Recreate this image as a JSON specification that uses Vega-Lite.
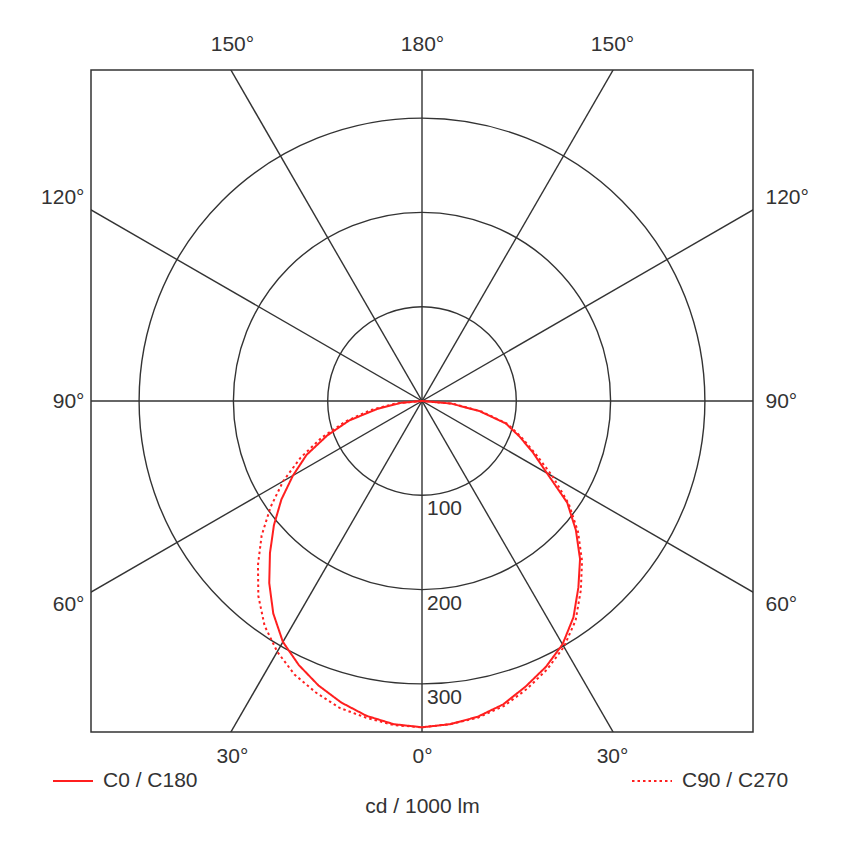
{
  "$schema": "https://vega.github.io/schema/vega-lite/v6.json",
  "width": 662,
  "height": 662,
  "autosize": "none",
  "padding": {"left": 91, "top": 70, "right": 97, "bottom": 116},
  "background": "white",
  "config": {
    "font": "Liberation Sans",
    "view": {"stroke": "#333333", "strokeWidth": 1.5},
    "axis": {"grid": false, "ticks": false, "tickSize": 0, "domain": false, "labelFont": "Liberation Sans", "labelFontSize": 21, "labelColor": "#333333", "titleFont": "Liberation Sans", "titleFontSize": 21, "titleFontWeight": "normal", "titleColor": "#333333"}
  },
  "resolve": {"axis": {"x": "independent", "y": "independent"}},
  "layer": [
    {
      "data": {"values": [{"r": 100}, {"r": 200}, {"r": 300}]},
      "transform": [
        {"calculate": "0", "as": "cx"},
        {"calculate": "0", "as": "cy"}
      ],
      "mark": {"type": "point", "shape": "circle", "filled": false, "stroke": "#333333", "strokeWidth": 1.4, "opacity": 1},
      "encoding": {
        "x": {"field": "cx", "type": "quantitative", "scale": {"domain": [-351, 351], "nice": false, "zero": false}, "axis": null},
        "y": {"field": "cy", "type": "quantitative", "scale": {"domain": [-351, 351], "nice": false, "zero": false}, "axis": null},
        "size": {"field": "r", "type": "quantitative", "scale": {"type": "pow", "exponent": 2, "domain": [0, 351], "range": [0, 438244], "zero": true}, "legend": null}
      }
    },
    {
      "data": {"values": [{"a": 0}, {"a": 30}, {"a": 60}, {"a": 90}, {"a": 120}, {"a": 150}]},
      "transform": [
        {"calculate": "600*sin(datum.a*PI/180)", "as": "x1"},
        {"calculate": "-600*cos(datum.a*PI/180)", "as": "y1"},
        {"calculate": "-datum.x1", "as": "xe"},
        {"calculate": "-datum.y1", "as": "ye"}
      ],
      "mark": {"type": "rule", "clip": true, "color": "#333333", "strokeWidth": 1.4},
      "encoding": {
        "x": {"field": "x1", "type": "quantitative", "scale": {"domain": [-351, 351], "nice": false, "zero": false},
          "axis": {"orient": "bottom", "values": [-201.5, 0, 201.5], "labelExpr": "datum.value == 0 ? '0°' : '30°'", "labelBaseline": "middle", "labelPadding": 24, "title": "cd / 1000 lm", "titlePadding": 29}},
        "x2": {"field": "xe"},
        "y": {"field": "y1", "type": "quantitative", "scale": {"domain": [-351, 351], "nice": false, "zero": false},
          "axis": {"orient": "left", "values": [-216, 0, 216], "labelExpr": "datum.value > 100 ? '120°' : datum.value < -100 ? '60°' : '90°'", "labelBaseline": "middle", "labelPadding": 7, "title": null}},
        "y2": {"field": "ye"}
      }
    },
    {
      "data": {"values": [
        {"series": "C0 / C180", "angle": -90, "cd": 0},
        {"series": "C0 / C180", "angle": -85, "cd": 22},
        {"series": "C0 / C180", "angle": -80, "cd": 48},
        {"series": "C0 / C180", "angle": -75, "cd": 80},
        {"series": "C0 / C180", "angle": -70, "cd": 107},
        {"series": "C0 / C180", "angle": -65, "cd": 135},
        {"series": "C0 / C180", "angle": -60, "cd": 158},
        {"series": "C0 / C180", "angle": -55, "cd": 182},
        {"series": "C0 / C180", "angle": -50, "cd": 205},
        {"series": "C0 / C180", "angle": -45, "cd": 228},
        {"series": "C0 / C180", "angle": -40, "cd": 252},
        {"series": "C0 / C180", "angle": -35, "cd": 275},
        {"series": "C0 / C180", "angle": -30, "cd": 295},
        {"series": "C0 / C180", "angle": -25, "cd": 309},
        {"series": "C0 / C180", "angle": -20, "cd": 321},
        {"series": "C0 / C180", "angle": -15, "cd": 331},
        {"series": "C0 / C180", "angle": -10, "cd": 339},
        {"series": "C0 / C180", "angle": -5, "cd": 344},
        {"series": "C0 / C180", "angle": 0, "cd": 346},
        {"series": "C0 / C180", "angle": 5, "cd": 344},
        {"series": "C0 / C180", "angle": 10, "cd": 340},
        {"series": "C0 / C180", "angle": 15, "cd": 333},
        {"series": "C0 / C180", "angle": 20, "cd": 322},
        {"series": "C0 / C180", "angle": 25, "cd": 311},
        {"series": "C0 / C180", "angle": 30, "cd": 298},
        {"series": "C0 / C180", "angle": 35, "cd": 280},
        {"series": "C0 / C180", "angle": 40, "cd": 258},
        {"series": "C0 / C180", "angle": 45, "cd": 237},
        {"series": "C0 / C180", "angle": 50, "cd": 213},
        {"series": "C0 / C180", "angle": 55, "cd": 188},
        {"series": "C0 / C180", "angle": 60, "cd": 153},
        {"series": "C0 / C180", "angle": 65, "cd": 130},
        {"series": "C0 / C180", "angle": 70, "cd": 110},
        {"series": "C0 / C180", "angle": 75, "cd": 92},
        {"series": "C0 / C180", "angle": 80, "cd": 62},
        {"series": "C0 / C180", "angle": 85, "cd": 31},
        {"series": "C0 / C180", "angle": 90, "cd": 0},
        {"series": "C90 / C270", "angle": -90, "cd": 0},
        {"series": "C90 / C270", "angle": -85, "cd": 27},
        {"series": "C90 / C270", "angle": -80, "cd": 55},
        {"series": "C90 / C270", "angle": -75, "cd": 84},
        {"series": "C90 / C270", "angle": -70, "cd": 113},
        {"series": "C90 / C270", "angle": -65, "cd": 142},
        {"series": "C90 / C270", "angle": -60, "cd": 170},
        {"series": "C90 / C270", "angle": -55, "cd": 196},
        {"series": "C90 / C270", "angle": -50, "cd": 222},
        {"series": "C90 / C270", "angle": -45, "cd": 246},
        {"series": "C90 / C270", "angle": -40, "cd": 270},
        {"series": "C90 / C270", "angle": -35, "cd": 291},
        {"series": "C90 / C270", "angle": -30, "cd": 307},
        {"series": "C90 / C270", "angle": -25, "cd": 320},
        {"series": "C90 / C270", "angle": -20, "cd": 329},
        {"series": "C90 / C270", "angle": -15, "cd": 337},
        {"series": "C90 / C270", "angle": -10, "cd": 341},
        {"series": "C90 / C270", "angle": -5, "cd": 345},
        {"series": "C90 / C270", "angle": 0, "cd": 346},
        {"series": "C90 / C270", "angle": 5, "cd": 344},
        {"series": "C90 / C270", "angle": 10, "cd": 341},
        {"series": "C90 / C270", "angle": 15, "cd": 335},
        {"series": "C90 / C270", "angle": 20, "cd": 325},
        {"series": "C90 / C270", "angle": 25, "cd": 314},
        {"series": "C90 / C270", "angle": 30, "cd": 301},
        {"series": "C90 / C270", "angle": 35, "cd": 284},
        {"series": "C90 / C270", "angle": 40, "cd": 262},
        {"series": "C90 / C270", "angle": 45, "cd": 240},
        {"series": "C90 / C270", "angle": 50, "cd": 216},
        {"series": "C90 / C270", "angle": 55, "cd": 190},
        {"series": "C90 / C270", "angle": 60, "cd": 160},
        {"series": "C90 / C270", "angle": 65, "cd": 133},
        {"series": "C90 / C270", "angle": 70, "cd": 112},
        {"series": "C90 / C270", "angle": 75, "cd": 94},
        {"series": "C90 / C270", "angle": 80, "cd": 64},
        {"series": "C90 / C270", "angle": 85, "cd": 33},
        {"series": "C90 / C270", "angle": 90, "cd": 0}
      ]},
      "transform": [
        {"calculate": "datum.cd*sin(datum.angle*PI/180)", "as": "px"},
        {"calculate": "-datum.cd*cos(datum.angle*PI/180)", "as": "py"}
      ],
      "mark": {"type": "line", "color": "#ff1f1f", "strokeWidth": 2},
      "encoding": {
        "x": {"field": "px", "type": "quantitative", "scale": {"domain": [-351, 351], "nice": false, "zero": false}, "axis": null},
        "y": {"field": "py", "type": "quantitative", "scale": {"domain": [-351, 351], "nice": false, "zero": false}, "axis": null},
        "order": {"field": "angle", "type": "quantitative"},
        "strokeDash": {"field": "series", "type": "nominal",
          "scale": {"domain": ["C0 / C180", "C90 / C270"], "range": [[1, 0], [2.5, 3]]},
          "legend": {"orient": "none", "legendX": -39, "legendY": 690, "direction": "horizontal", "columns": 2, "columnPadding": 430, "title": null, "symbolType": "stroke", "symbolSize": 1600, "symbolStrokeWidth": 2, "symbolStrokeColor": "#ff1f1f", "labelFont": "Liberation Sans", "labelFontSize": 21, "labelColor": "#333333", "labelOffset": 9, "labelLimit": 300}}
      }
    },
    {
      "data": {"values": [{"r": 100, "label": "100"}, {"r": 200, "label": "200"}, {"r": 300, "label": "300"}]},
      "transform": [
        {"calculate": "0", "as": "cx"},
        {"calculate": "-datum.r", "as": "ny"}
      ],
      "mark": {"type": "text", "align": "left", "baseline": "top", "dx": 5, "dy": 3, "font": "Liberation Sans", "fontSize": 21, "color": "#333333"},
      "encoding": {
        "x": {"field": "cx", "type": "quantitative", "scale": {"domain": [-351, 351], "nice": false, "zero": false},
          "axis": {"orient": "top", "values": [-201.5, 0, 201.5], "labelExpr": "datum.value == 0 ? '180°' : '150°'", "labelBaseline": "middle", "labelPadding": 26, "title": null}},
        "y": {"field": "ny", "type": "quantitative", "scale": {"domain": [-351, 351], "nice": false, "zero": false},
          "axis": {"orient": "right", "values": [-216, 0, 216], "labelExpr": "datum.value > 100 ? '120°' : datum.value < -100 ? '60°' : '90°'", "labelBaseline": "middle", "labelPadding": 12, "title": null}},
        "text": {"field": "label", "type": "nominal"}
      }
    }
  ]
}
